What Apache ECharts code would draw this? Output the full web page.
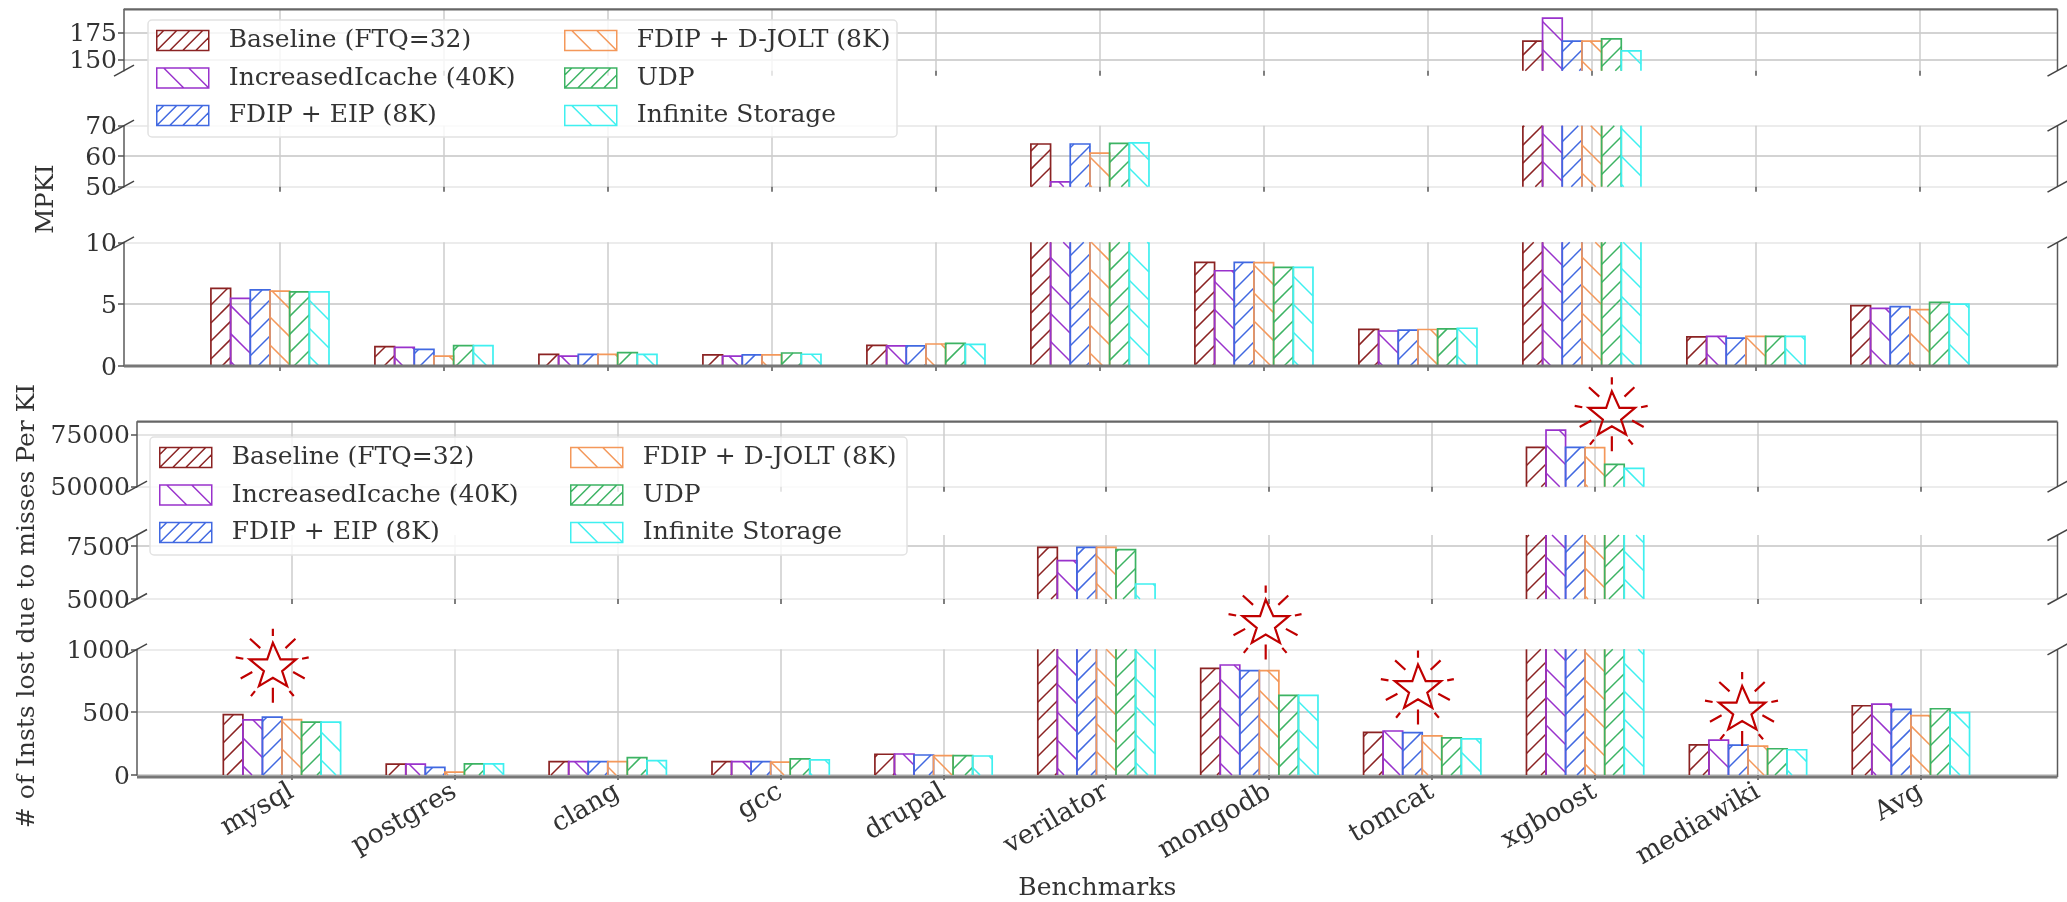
<!DOCTYPE html>
<html><head><meta charset="utf-8">
<style>html,body{margin:0;padding:0;background:#fff}#c{width:2067px;height:902px;filter:blur(0.45px)}</style>
<script src="https://cdn.jsdelivr.net/npm/echarts@6/dist/echarts.min.js"></script>
</head><body><div id="c"></div>
<script>
const categories = ['mysql','postgres','clang','gcc','drupal','verilator','mongodb','tomcat','xgboost','mediawiki','Avg'];
const seriesNames = ['Baseline (FTQ=32)','IncreasedIcache (40K)','FDIP + EIP (8K)','FDIP + D-JOLT (8K)','UDP','Infinite Storage'];
const colors = ['#8b2323','#9932cc','#4169e1','#f4985a','#3cb363','#3ff0f0'];

// MPKI
const mpkiBaseline  = [6.28,1.56,0.94,0.90,1.67,64.0,8.38,2.96,167,2.35,4.88];
const mpkiIcache    = [5.47,1.50,0.80,0.80,1.62,51.6,7.70,2.83,188,2.40,4.66];
const mpkiEip       = [6.15,1.35,0.94,0.90,1.62,64.0,8.38,2.90,167,2.26,4.80];
const mpkiDjolt     = [6.06,0.80,0.94,0.90,1.78,61.0,8.36,2.95,167,2.40,4.55];
const mpkiUdp       = [6.00,1.65,1.08,1.05,1.83,64.2,7.98,3.00,169,2.40,5.15];
const mpkiInfinite  = [6.00,1.65,0.94,0.95,1.75,64.4,7.98,3.05,158,2.40,5.00];
// Instructions lost per KI
const lostBaseline  = [480,86,107,107,165,7437,849,339,68900,240,551];
const lostIcache    = [439,86,107,107,167,6808,875,350,77240,277,564];
const lostEip       = [460,60,107,107,159,7437,830,337,68900,238,522];
const lostDjolt     = [441,23,107,102,154,7437,830,311,68750,230,473];
const lostUdp       = [420,89,138,128,154,7327,634,295,60740,209,527];
const lostInfinite  = [420,89,115,120,151,5707,634,287,58800,201,496];
// Highlight stars (in the lower chart's bottom panel scale)
const starX = [-0.12,5.975,6.91,8.10,8.90];
const starY = [869,1213,697,2870,525];

const mpki = [mpkiBaseline,mpkiIcache,mpkiEip,mpkiDjolt,mpkiUdp,mpkiInfinite];
const lost = [lostBaseline,lostIcache,lostEip,lostDjolt,lostUdp,lostInfinite];

const X_MIN=-0.95, X_MAX=10.84, BAR_W=0.12, HATCH_UP=18, HATCH_DOWN=28;
const LIGHT='#e6e6e6', MID='#c4c4c4';
const panels = [
 {d:mpki,left:124,top:9.3,bottom:70.7,min:140,max:196,ticks:[150,175],gc:[MID,MID]},
 {d:mpki,left:124,top:125.7,bottom:186.7,min:50,max:70,ticks:[50,60,70],gc:[LIGHT,MID,LIGHT]},
 {d:mpki,left:124,top:242.3,bottom:366,min:0,max:10,ticks:[0,5,10],gc:[MID,MID,LIGHT]},
 {d:lost,left:137,top:421.7,bottom:486.7,min:50000,max:81250,ticks:[50000,75000],gc:[LIGHT,'#dcdcdc']},
 {d:lost,left:137,top:535,bottom:599,min:5000,max:8020,ticks:[5000,7500],gc:[LIGHT,MID]},
 {d:lost,left:137,top:649.3,bottom:777,min:0,max:1000,ticks:[0,500,1000],gc:[MID,MID,LIGHT],labels:true}
];
const RIGHT=2057.5, FONT='"DejaVu Serif"', TXT='#333', SPINE='#5a5a5a';
const xTicks = categories.map((_,i)=>i);

function makeRender(k,p){
  const rising = k%2===0, col = colors[k];
  return function(params,api){
    const v = api.value(1);
    if(v<=p.min) return null;
    const xc = api.value(0)+(k-3)*BAR_W;
    const a = api.coord([xc-BAR_W/2,p.min]), b = api.coord([xc+BAR_W/2,Math.min(v,p.max)]);
    const x0=a[0], yb=a[1], x1=b[0], yt=b[1];
    const st = {stroke:col,lineWidth:1.7,fill:null};
    const kids=[];
    if(v>=p.max){
      kids.push({type:'line',shape:{x1:x0,y1:yb,x2:x0,y2:yt},style:st});
      kids.push({type:'line',shape:{x1:x1,y1:yb,x2:x1,y2:yt},style:st});
    } else {
      kids.push({type:'polyline',shape:{points:[[x0,yb],[x0,yt],[x1,yt],[x1,yb]]},style:st});
    }
    const hs={stroke:col,lineWidth:1.5,fill:null};
    if(rising){
      // y = c - x
      for(let n=Math.floor((x0+yt)/HATCH_UP)-1;n<=Math.ceil((x1+yb)/HATCH_UP);n++){
        const c=n*HATCH_UP+12, s=Math.max(x0,c-yb), e=Math.min(x1,c-yt);
        if(s<e) kids.push({type:'line',shape:{x1:s,y1:c-s,x2:e,y2:c-e},style:hs});
      }
    } else {
      // y = x + c
      for(let n=Math.floor((yt-x1)/HATCH_DOWN)-1;n<=Math.ceil((yb-x0)/HATCH_DOWN);n++){
        const c=n*HATCH_DOWN+19, s=Math.max(x0,yt-c), e=Math.min(x1,yb-c);
        if(s<e) kids.push({type:'line',shape:{x1:s,y1:s+c,x2:e,y2:e+c},style:hs});
      }
    }
    return {type:'group',children:kids};
  };
}

const grid=[],xAxis=[],yAxis=[],series=[];
panels.forEach((p,pi)=>{
  grid.push({left:p.left,top:p.top,width:RIGHT-p.left,height:p.bottom-p.top,containLabel:false});
  xAxis.push({gridIndex:pi,type:'value',min:X_MIN,max:X_MAX,
    axisLine:{show:false},
    axisTick:{show:true,length:5,customValues:xTicks,lineStyle:{color:'#555',width:1.5}},
    axisLabel:{show:!!p.labels,customValues:xTicks,rotate:30,margin:15,color:TXT,fontFamily:FONT,fontSize:26.5,
      formatter:v=>categories[v]},
    splitLine:{show:true,lineStyle:{color:'#cdcdcd',width:1.5}},
    name:p.labels?'Benchmarks':'',nameLocation:'middle',nameGap:101,
    nameTextStyle:{color:TXT,fontFamily:FONT,fontSize:25}});
  yAxis.push({gridIndex:pi,type:'value',min:p.min,max:p.max,
    axisLine:{show:true,onZero:false,lineStyle:{color:SPINE,width:1.5}},
    axisTick:{show:true,length:6,customValues:p.ticks,lineStyle:{color:'#555',width:1.5}},
    axisLabel:{customValues:p.ticks,margin:7,formatter:v=>'{a|'+v+'}',
      rich:{a:{color:TXT,fontFamily:FONT,fontSize:25,padding:[4,0,0,0]}}},
    splitLine:{show:true,lineStyle:{color:p.gc,width:1.5}}});
  p.d.forEach((vals,k)=>{
    series.push({type:'custom',name:seriesNames[k],xAxisIndex:pi,yAxisIndex:pi,z:2,silent:true,
      encode:{x:0,y:1},renderItem:makeRender(k,p),
      data:vals.map((v,i)=>[i,v])});
  });
});

const STAR='path://M222 28L222 50ZM153 58L184 86ZM290 58L260 86ZM110 114L133 118ZM330 114L310 118ZM125 177L160 158ZM318 177L283 158ZM222 205L222 250ZM156 230L168 215ZM285 230L272 215ZM222 70L245 120L292 120L250 155L265 200L222 175L180 200L195 155L152 120L205 120Z';
series.push({type:'scatter',name:'highlight',xAxisIndex:5,yAxisIndex:5,clip:false,silent:true,z:10,
  symbol:STAR,symbolSize:[73,74],
  itemStyle:{color:'rgba(0,0,0,0)',borderColor:'#c00000',borderWidth:2.2,opacity:1},
  data:starX.map((x,i)=>[x,starY[i]])});

const iconUp='path://M0 0H52V20H0ZM0 7L7 0ZM0 20L20 0ZM13 20L33 0ZM26 20L46 0ZM39 20L52 7Z';
const iconDown='path://M0 0H52V20H0ZM7 0L27 20ZM32 0L52 20Z';
function legendCol(idx,left,top,sw){
  return {show:true,orient:'vertical',left,top,padding:0,itemWidth:52,itemHeight:20,itemGap:12.5,selectedMode:false,z:6,
    textStyle:{color:TXT,fontFamily:FONT,fontSize:sw,padding:[0,0,0,15],lineHeight:20,height:20},
    data:idx.map(k=>({name:seriesNames[k],icon:k%2===0?iconUp:iconDown,
      itemStyle:{color:'rgba(0,0,0,0)',borderColor:colors[k],borderWidth:1.5,opacity:1}}))};
}
const legend=[
  legendCol([0,1,2],156,28,25),legendCol([3,4,5],564,28,25),
  legendCol([0,1,2],159,445,25),legendCol([3,4,5],570,445,25)
];

const g=[];
const ln=(x1,y1,x2,y2,c,w)=>g.push({type:'line',z:5,silent:true,shape:{x1,y1,x2,y2},style:{stroke:c,lineWidth:w}});
g.push({type:'rect',z:3,silent:true,shape:{x:148,y:20,width:749,height:117,r:4},style:{fill:'rgba(255,255,255,0.8)',stroke:'#e2e2e2',lineWidth:1.5}});
g.push({type:'rect',z:3,silent:true,shape:{x:150,y:437,width:757,height:118,r:4},style:{fill:'rgba(255,255,255,0.8)',stroke:'#e2e2e2',lineWidth:1.5}});
panels.forEach((p,pi)=>{
  ln(RIGHT,p.top,RIGHT,p.bottom,SPINE,1.5);
  const first=pi%3===0, last=pi%3===2;
  if(first) ln(p.left,p.top,RIGHT,p.top,'#666',2.2);
  if(last) ln(p.left,p.bottom,RIGHT,p.bottom,'#777',3);
  [p.left,RIGHT].forEach(x=>{
    if(!last) ln(x-10,p.bottom+5.5,x+10,p.bottom-5.5,'#444',1.5);
    if(!first) ln(x-10,p.top+5.5,x+10,p.top-5.5,'#444',1.5);
  });
});
const yl=(text,x,y,size)=>g.push({type:'text',z:5,silent:true,x,y,rotation:Math.PI/2,
  style:{text,x:0,y:0,align:'center',verticalAlign:'middle',fill:TXT,font:size+'px '+FONT}});
yl('MPKI',47,199,24.5);
yl('# of Insts lost due to misses Per KI',27,606,25);

const chart=echarts.init(document.getElementById('c'));
chart.setOption({animation:false,backgroundColor:'#fff',grid,xAxis,yAxis,series,legend,graphic:{elements:g},tooltip:{show:false}});
</script></body></html>
